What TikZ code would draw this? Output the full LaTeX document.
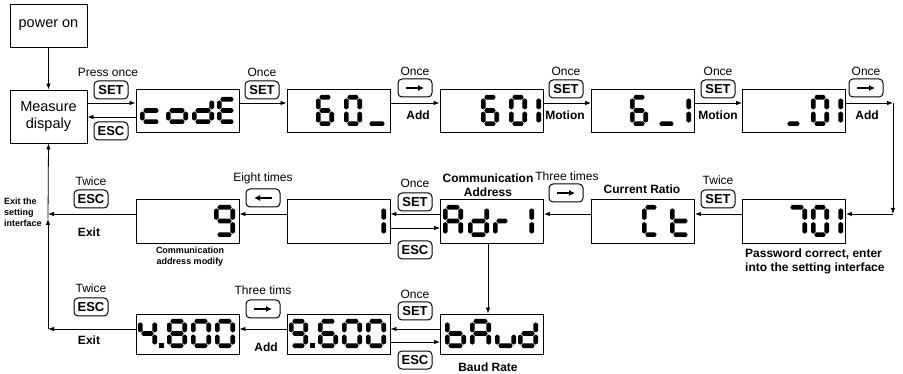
\documentclass[tikz,border=0pt]{standalone}
\usepackage{fontspec}
\setmainfont{Liberation Sans}
\usetikzlibrary{arrows.meta,calc}

% seven-segment helpers (coordinates in px, y downwards)
\def\sgt{2.3}% half thickness
\def\sgc{1.6}% chamfer
\def\sgg{1.0}% gap
\newcommand{\hseg}[3]{\fill (#1+\sgg,#3) -- (#1+\sgg+\sgc,#3-\sgt) -- (#2-\sgg-\sgc,#3-\sgt) -- (#2-\sgg,#3) -- (#2-\sgg-\sgc,#3+\sgt) -- (#1+\sgg+\sgc,#3+\sgt) -- cycle;}
\newcommand{\vseg}[3]{\fill (#1,#2+\sgg) -- (#1+\sgt,#2+\sgg+\sgc) -- (#1+\sgt,#3-\sgg-\sgc) -- (#1,#3-\sgg) -- (#1-\sgt,#3-\sgg-\sgc) -- (#1-\sgt,#2+\sgg+\sgc) -- cycle;}
\def\sgA#1#2{\hseg{\sgt}{#1-\sgt}{\sgt}}
\def\sgB#1#2{\vseg{#1-\sgt}{\sgt}{#2/2}}
\def\sgC#1#2{\vseg{#1-\sgt}{#2/2}{#2-\sgt}}
\def\sgD#1#2{\hseg{\sgt}{#1-\sgt}{#2-\sgt}}
\def\sgE#1#2{\vseg{\sgt}{#2/2}{#2-\sgt}}
\def\sgF#1#2{\vseg{\sgt}{\sgt}{#2/2}}
\def\sgG#1#2{\hseg{\sgt}{#1-\sgt}{#2/2}}
\newcommand{\lcd}[5]{\begin{scope}[shift={(#1,#2)}]\foreach \s in {#5}{\csname sg\s\endcsname{#3}{#4}}\end{scope}}
\newcommand{\dpt}[2]{\fill (#1,#2) rectangle ++(4.6,-4.6);}

\tikzset{
  box/.style={draw, line width=0.9pt, inner sep=0pt, align=center, font=\fontsize{14.5}{17}\selectfont},
  disp/.style={draw, line width=0.9pt, minimum width=103pt, inner sep=0pt},
  btn/.style={draw, line width=1pt, rounded corners=4pt, minimum width=34pt, minimum height=18pt, inner sep=0pt, font=\bfseries\fontsize{13}{13}\selectfont},
  barr/.style={line width=2pt, -{Latex[length=6pt,width=6pt]}},
  arr/.style={line width=0.8pt, -{Latex[length=6pt,width=4.5pt]}},
  lab/.style={inner sep=0pt, font=\fontsize{12}{14}\selectfont},
  blab/.style={inner sep=0pt, font=\bfseries\fontsize{12}{14}\selectfont, align=center},
  slab/.style={inner sep=0pt, font=\bfseries\fontsize{9}{11}\selectfont},
}

\begin{document}
\begin{tikzpicture}[x=1pt,y=-1pt]
\useasboundingbox (0,0) rectangle (903,374);

% left boxes
\node[box, minimum width=77pt, minimum height=43pt] (pwr) at (48.5,25.5) {power on};
\node[box, minimum width=77pt, minimum height=53pt] (meas) at (48.5,116.5) {Measure\\dispaly};

% displays
\node[disp, minimum height=43pt] (bcode) at (187.5,110.5) {};
\node[disp, minimum height=43pt] (b60) at (338.5,110.5) {};
\node[disp, minimum height=43pt] (b601) at (491.5,110.5) {};
\node[disp, minimum height=43pt] (b61) at (643,110.5) {};
\node[disp, minimum height=43pt] (b01) at (794,110.5) {};
\node[disp, minimum height=44pt] (b701) at (794,221) {};
\node[disp, minimum height=44pt] (bct) at (643,221) {};
\node[disp, minimum height=44pt] (badr) at (492,221) {};
\node[disp, minimum height=44pt] (bone) at (338.5,221) {};
\node[disp, minimum height=44pt] (bnine) at (187.5,221) {};
\node[disp, minimum height=40pt] (bbaud) at (492,334) {};
\node[disp, minimum height=40pt] (b9600) at (338.5,334) {};
\node[disp, minimum height=40pt] (b4800) at (187.5,334) {};

% digits top row
\lcd{140}{97}{22}{27}{G,E,D}
\lcd{166}{97}{22}{27}{G,C,D,E}
\lcd{192}{97}{22}{27}{B,C,D,E,G}
\lcd{217}{97}{20}{27}{A,D,E,F,G}
\lcd{316}{95}{18}{31}{A,C,D,E,F,G}
\lcd{344}{95}{18}{31}{A,B,C,D,E,F}
\lcd{366}{95}{22}{31}{D}
\lcd{481}{95}{18}{31}{A,C,D,E,F,G}
\lcd{509}{95}{18}{31}{A,B,C,D,E,F}
\lcd{523}{95}{18}{31}{B,C}
\lcd{630}{95}{18}{31}{A,C,D,E,F,G}
\lcd{656}{95}{21}{31}{D}
\lcd{673}{95}{18}{31}{B,C}
\lcd{784}{95}{19}{31}{D}
\lcd{811}{95}{18}{31}{A,B,C,D,E,F}
\lcd{825}{95}{18}{31}{B,C}
% digits middle row
\lcd{787}{205}{20}{32}{A,B,C}
\lcd{811}{205}{18}{32}{A,B,C,D,E,F}
\lcd{825}{205}{18}{32}{B,C}
\lcd{642}{205}{18}{32}{A,D,E,F}
\lcd{670}{205}{21}{32}{D,E,F,G}
\lcd{443}{205}{20}{32}{A,B,C,E,F,G}
\lcd{468}{205}{21}{32}{B,C,D,E,G}
\lcd{493}{205}{18}{32}{E,G}
\lcd{516}{205}{18}{32}{B,C}
\lcd{368}{205}{18}{32}{B,C}
\lcd{214}{205}{21}{32}{A,B,C,D,F,G}
% digits bottom row
\lcd{138}{319}{19}{29}{B,C,F,G}
\dpt{159}{348}
\lcd{167}{319}{20}{29}{A,B,C,D,E,F,G}
\lcd{191}{319}{20}{29}{A,B,C,D,E,F}
\lcd{215}{319}{20}{29}{A,B,C,D,E,F}
\lcd{289}{319}{19}{29}{A,B,C,D,F,G}
\dpt{310}{348}
\lcd{318}{319}{20}{29}{A,C,D,E,F,G}
\lcd{342}{319}{20}{29}{A,B,C,D,E,F}
\lcd{366}{319}{20}{29}{A,B,C,D,E,F}
\lcd{445}{319}{21}{29}{C,D,E,F,G}
\lcd{470}{319}{21}{29}{A,B,C,E,F,G}
\lcd{495}{319}{21}{29}{C,D,E}
\lcd{518}{319}{20}{29}{B,C,D,E,G}

% connectors top
\draw[arr] (pwr.south) -- (meas.north);
\coordinate (cU) at ([yshift=7.5pt]bcode.west);
\coordinate (cL) at ([yshift=-6.5pt]bcode.west);
\draw[arr] (meas.east |- cU) -- (cU);
\draw[arr] (cL) -- (meas.east |- cL);
\draw[arr] ([yshift=7.5pt]bcode.east) -- ([yshift=7.5pt]b60.west);
\draw[arr] ([yshift=7.5pt]b60.east) -- ([yshift=7.5pt]b601.west);
\draw[arr] ([yshift=7.5pt]b601.east) -- ([yshift=7.5pt]b61.west);
\draw[arr] ([yshift=7.5pt]b61.east) -- ([yshift=7.5pt]b01.west);
\coordinate (rt) at (893,103);
\coordinate (rb) at (893,214);
\draw[arr] ([yshift=7.5pt]b01.east) -- (rt);
\draw[arr] (rt) -- (rb);
\draw[arr] (rb) -- (b701.east |- rb);
% middle
\draw[arr] ([yshift=7pt]b701.west) -- ([yshift=7pt]bct.east);
\draw[arr] ([yshift=7pt]bct.west) -- ([yshift=7pt]badr.east);
\draw[arr] ([yshift=7pt]badr.west) -- ([yshift=7pt]bone.east);
\draw[arr] ([yshift=-7pt]bone.east) -- ([yshift=-7pt]badr.west);
\draw[arr] ([yshift=7pt]bone.west) -- ([yshift=7pt]bnine.east);
\coordinate (lm) at (48,214);
\draw[arr] ([yshift=7pt]bnine.west) -- (lm);
\draw[arr] ([xshift=-4pt]badr.south) -- ([xshift=-4pt]bbaud.north);
% bottom
\draw[arr] ([yshift=5pt]bbaud.west) -- ([yshift=5pt]b9600.east);
\draw[arr] ([yshift=-8pt]b9600.east) -- ([yshift=-8pt]bbaud.west);
\draw[arr] ([yshift=5pt]b9600.west) -- ([yshift=5pt]b4800.east);
\coordinate (lb) at (48,329);
\coordinate (lu) at (48,219);
\draw[arr] ([yshift=5pt]b4800.west) -- (lb);
\draw[arr] (lb) -- (lu);
\draw[arr] (lu) -- (meas.south);

% buttons and labels top row
\node[lab] (t1) at (108,72) {Press once};
\node[btn] (k1) at (111,90) {SET};
\node[btn] (k2) at (111,131) {ESC};
\node[lab] (t2) at (262,72) {Once};
\node[btn] (k3) at (262,90) {SET};
\node[lab] (t3) at (415,71) {Once};
\node[btn] (k4) at (415,88) {};
\draw[barr] ([xshift=-9pt]k4.center) -- ([xshift=9pt]k4.center);
\node[blab] (a1) at (418,115) {Add};
\node[lab] (t4) at (566,71) {Once};
\node[btn] (k5) at (566,89) {SET};
\node[blab] (m1) at (565,115) {Motion};
\node[lab] (t5) at (718,71) {Once};
\node[btn] (k6) at (718,89) {SET};
\node[blab] (m2) at (718,115) {Motion};
\node[lab] (t6) at (866,71) {Once};
\node[btn] (k7) at (866,88) {};
\draw[barr] ([xshift=-9pt]k7.center) -- ([xshift=9pt]k7.center);
\node[blab] (a2) at (867,115) {Add};

% middle row labels
\node[lab] (t7) at (718,180) {Twice};
\node[btn] (k8) at (718,199) {SET};
\node[blab] (cr) at (642,189) {Current Ratio};
\node[lab] (t8) at (567,176) {Three times};
\node[btn] (k9) at (566,193) {};
\draw[barr] ([xshift=-9pt]k9.center) -- ([xshift=9pt]k9.center);
\node[blab] (ca) at (488,185) {Communication\\Address};
\node[lab] (t9) at (415,183) {Once};
\node[btn] (k10) at (415,202) {SET};
\node[btn] (k11) at (415,250) {ESC};
\node[lab] (t10) at (263,178) {Eight times};
\node[btn] (k12) at (263,198) {};
\draw[barr] ([xshift=9pt]k12.center) -- ([xshift=-9pt]k12.center);
\node[lab] (t11) at (91,181) {Twice};
\node[btn] (k13) at (91,199) {ESC};
\node[blab] (e1) at (89,232) {Exit};
\node[slab, anchor=west, align=left] (ex) at (4,212) {Exit the\\setting\\interface};
\node[slab, align=center] (cam) at (190,257) {Communication\\address modify};
\node[inner sep=0pt, anchor=north west, align=left, font=\bfseries\fontsize{12}{13.5}\selectfont] (pw) at (745,249) {Password correct, enter\\into the setting interface};

% bottom row labels
\node[lab] (t12) at (91,288) {Twice};
\node[btn] (k14) at (91,307) {ESC};
\node[blab] (e2) at (89,340) {Exit};
\node[lab] (t13) at (263,290) {Three tims};
\node[btn] (k15) at (263,309) {};
\draw[barr] ([xshift=-9pt]k15.center) -- ([xshift=9pt]k15.center);
\node[blab] (a3) at (266,347) {Add};
\node[lab] (t14) at (415,294) {Once};
\node[btn] (k16) at (415,311) {SET};
\node[btn] (k17) at (415,360) {ESC};
\node[blab] (br) at (488,367) {Baud Rate};
\end{tikzpicture}
\end{document}
